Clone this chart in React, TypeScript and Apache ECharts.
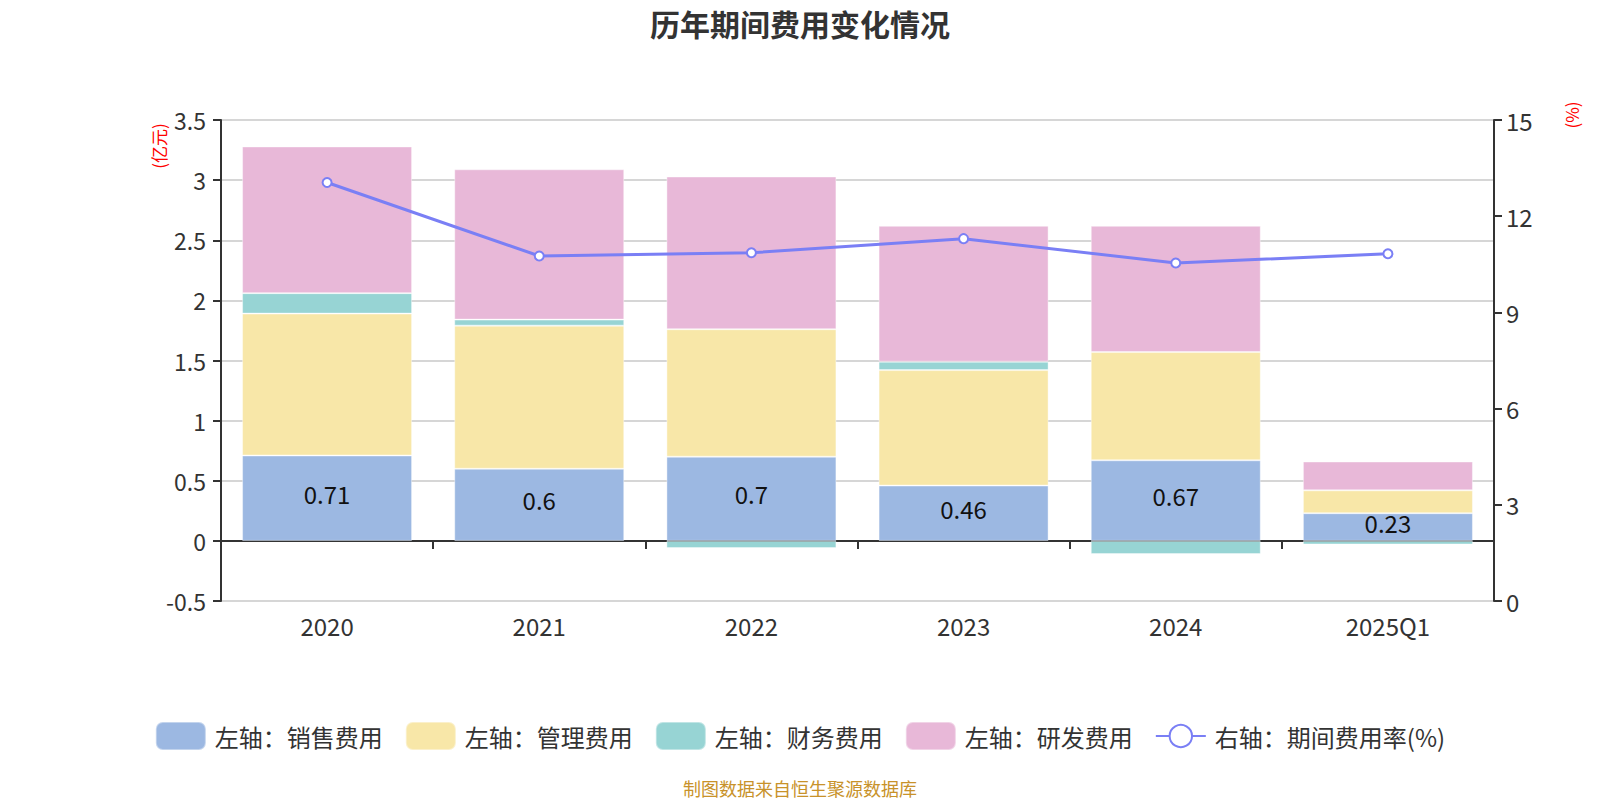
import React, { useEffect, useRef } from "react";
import * as echarts from "echarts";

const categories = ["2020", "2021", "2022", "2023", "2024", "2025Q1"];
const salesExp = [0.71, 0.6, 0.7, 0.46, 0.67, 0.23];
const adminExp = [1.18, 1.19, 1.06, 0.96, 0.9, 0.19];
const financeExp = [0.17, 0.05, -0.06, 0.07, -0.11, -0.03];
const rdExp = [1.22, 1.25, 1.27, 1.13, 1.05, 0.24];
const expenseRate = [13.05, 10.76, 10.86, 11.3, 10.54, 10.83];

const leftTicks = { min: -0.5, max: 3.5, interval: 0.5 };
const rightTicks = { min: 0, max: 15, interval: 3 };

const FONT = "'Noto Sans CJK SC', 'Noto Sans', sans-serif";

export default function App() {
  const ref = useRef<HTMLDivElement>(null);
  useEffect(() => {
    if (!ref.current) return;
    const chart = echarts.init(ref.current, null, { renderer: "svg" });
    const barCommon = {
      type: "bar",
      stack: "total",
      barWidth: 170,
      yAxisIndex: 0,
      xAxisIndex: 0,
    };
    chart.setOption({
      animation: false,
      textStyle: { fontFamily: FONT },
      title: {
        text: "历年期间费用变化情况",
        left: "center",
        top: 3,
        textStyle: { fontSize: 30, fontWeight: "bold", color: "#333", fontFamily: FONT },
      },
      grid: { left: 221, right: 106, top: 120, bottom: 199 },
      legend: {
        left: "center",
        top: 716,
        itemWidth: 50,
        itemHeight: 28,
        itemGap: 22,
        textStyle: { fontSize: 24, color: "#333", fontFamily: FONT, padding: [0, 0, 0, 4] },
        data: [
          { name: "左轴：销售费用", icon: "roundRect" },
          { name: "左轴：管理费用", icon: "roundRect" },
          { name: "左轴：财务费用", icon: "roundRect" },
          { name: "左轴：研发费用", icon: "roundRect" },
          { name: "右轴：期间费用率(%)" },
        ],
      },
      xAxis: [
        {
          type: "category",
          data: categories,
          axisLine: { show: true, onZero: true, lineStyle: { color: "#333", width: 2 } },
          axisTick: { show: true, length: 8, lineStyle: { color: "#333", width: 2 } },
          axisLabel: { show: false },
        },
        {
          type: "category",
          data: categories,
          position: "bottom",
          axisLine: { show: false, onZero: false },
          axisTick: { show: false },
          axisLabel: { show: true, fontSize: 24, color: "#333", margin: 12, fontFamily: FONT },
        },
      ],
      yAxis: [
        {
          type: "value",
          min: leftTicks.min,
          max: leftTicks.max,
          interval: leftTicks.interval,
          axisLine: { show: true, lineStyle: { color: "#333", width: 2 } },
          axisTick: { show: true, length: 8, lineStyle: { color: "#333", width: 2 } },
          axisLabel: { fontSize: 23, color: "#333", margin: 15, fontFamily: FONT },
          splitLine: { show: true, lineStyle: { color: "#c8c8c8", width: 1.5 } },
        },
        {
          type: "value",
          min: rightTicks.min,
          max: rightTicks.max,
          interval: rightTicks.interval,
          position: "right",
          axisLine: { show: true, lineStyle: { color: "#333", width: 2 } },
          axisTick: { show: true, length: 8, lineStyle: { color: "#333", width: 2 } },
          axisLabel: { fontSize: 24, color: "#333", margin: 12, fontFamily: FONT },
          splitLine: { show: false },
        },
      ],
      graphic: [
        {
          type: "text",
          x: 158,
          y: 146,
          rotation: Math.PI / 2,
          style: {
            text: "(亿元)",
            fill: "#ff0000",
            fontSize: 17,
            fontFamily: FONT,
            align: "center",
            verticalAlign: "middle",
          },
        },
        {
          type: "text",
          x: 1571,
          y: 115,
          rotation: Math.PI / 2,
          style: {
            text: "(%)",
            fill: "#ff0000",
            fontSize: 17,
            fontFamily: FONT,
            align: "center",
            verticalAlign: "middle",
          },
        },
        {
          type: "text",
          x: 800,
          y: 788,
          style: {
            text: "制图数据来自恒生聚源数据库",
            fill: "#c8922a",
            fontSize: 18,
            fontFamily: FONT,
            align: "center",
            verticalAlign: "middle",
          },
        },
      ],
      series: [
        {
          ...barCommon,
          name: "左轴：销售费用",
          data: salesExp,
          itemStyle: { color: "#9cb8e2", borderColor: "rgba(255,255,255,0.4)", borderWidth: 1 },
          label: {
            show: true,
            position: "inside",
            offset: [0, -5],
            fontSize: 24,
            color: "#111",
            fontFamily: FONT,
          },
        },
        {
          ...barCommon,
          name: "左轴：管理费用",
          data: adminExp,
          itemStyle: { color: "#f8e7a8", borderColor: "rgba(255,255,255,0.4)", borderWidth: 1 },
        },
        {
          ...barCommon,
          name: "左轴：财务费用",
          data: financeExp,
          itemStyle: { color: "#97d4d4", borderColor: "rgba(255,255,255,0.4)", borderWidth: 1 },
        },
        {
          ...barCommon,
          name: "左轴：研发费用",
          data: rdExp,
          itemStyle: { color: "#e8b8d8", borderColor: "rgba(255,255,255,0.4)", borderWidth: 1 },
        },
        {
          type: "line",
          name: "右轴：期间费用率(%)",
          yAxisIndex: 1,
          xAxisIndex: 0,
          data: expenseRate,
          symbol: "emptyCircle",
          symbolSize: 9,
          lineStyle: { color: "#7a7ff5", width: 3 },
          itemStyle: { color: "#7a7ff5", borderWidth: 2 },
          z: 5,
        },
      ],
    });
    return () => chart.dispose();
  }, []);
  return (
    <div
      ref={ref}
      style={{ position: "absolute", left: 0, top: 0, width: 1600, height: 800 }}
    />
  );
}
